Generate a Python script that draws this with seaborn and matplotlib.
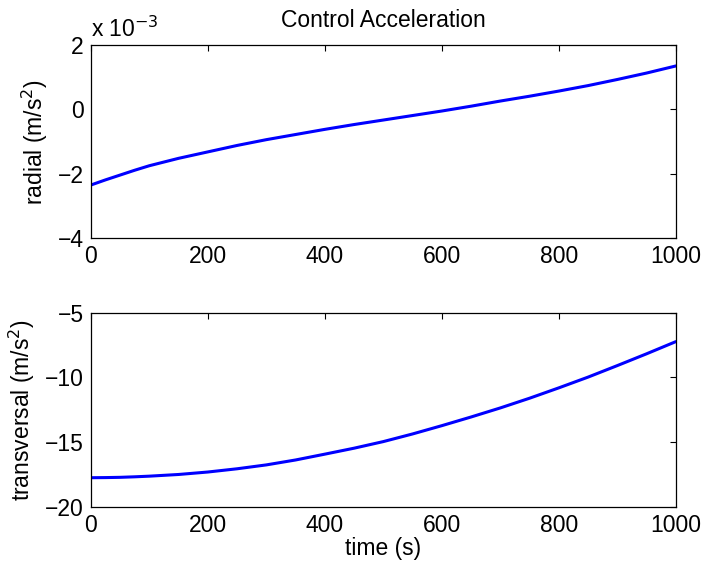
import numpy as np
import pandas as pd
import matplotlib
matplotlib.use("Agg")
import matplotlib.pyplot as plt
import matplotlib.ticker as mticker
import seaborn as sns

# values
time_s = [0, 25, 50, 75, 100, 150, 200, 250, 300, 350, 400, 450, 500,
          550, 600, 650, 700, 750, 800, 850, 900, 950, 1000]
radial = [-2.35e-3, -2.19e-3, -2.04e-3, -1.89e-3, -1.75e-3, -1.52e-3,
          -1.32e-3, -1.12e-3, -0.94e-3, -0.78e-3, -0.62e-3, -0.47e-3,
          -0.33e-3, -0.19e-3, -0.05e-3, 0.10e-3, 0.26e-3, 0.41e-3,
          0.57e-3, 0.74e-3, 0.93e-3, 1.13e-3, 1.35e-3]
transversal = [-17.74, -17.73, -17.71, -17.67, -17.62, -17.49, -17.30,
               -17.05, -16.75, -16.37, -15.92, -15.46, -14.95, -14.36,
               -13.72, -13.05, -12.35, -11.60, -10.80, -9.97, -9.08,
               -8.17, -7.23]

df = pd.DataFrame({"time": time_s, "radial": radial, "transversal": transversal})

sns.set_style("white")
plt.rcParams["font.family"] = ["Liberation Sans", "DejaVu Sans"]
plt.rcParams["xtick.direction"] = "in"
plt.rcParams["ytick.direction"] = "in"
plt.rcParams["text.color"] = "black"
plt.rcParams["axes.labelcolor"] = "black"
plt.rcParams["xtick.color"] = "black"
plt.rcParams["ytick.color"] = "black"
fs = 16.5

fig = plt.figure(figsize=(7.04, 5.63), dpi=100)
ax1 = fig.add_axes([0.129, 0.577, 0.831, 0.343])
ax2 = fig.add_axes([0.129, 0.0995, 0.831, 0.345])

line_kw = dict(color=(0, 0, 1), linewidth=2.2)
sns.lineplot(data=df, x="time", y="radial", ax=ax1, **line_kw)
sns.lineplot(data=df, x="time", y="transversal", ax=ax2, **line_kw)

ax1.set_xlim(0, 1000)
ax1.set_ylim(-4e-3, 2e-3)
ax1.set_yticks([-4e-3, -2e-3, 0, 2e-3])
ax1.yaxis.set_major_formatter(mticker.FuncFormatter(
    lambda v, p: f"{v * 1e3:.0f}".replace("-", "\u2212")))
ax1.set_ylabel("radial (m/s$^2$)", fontsize=fs, labelpad=6)
ax1.set_xlabel("")
ax1.set_title("Control Acceleration", fontsize=fs, pad=13, color="black")
ax1.text(0.0, 1.04, "x 10$^{-3}$", transform=ax1.transAxes,
         ha="left", va="baseline", fontsize=fs, color="black")

ax2.set_xlim(0, 1000)
ax2.set_ylim(-20, -5)
ax2.set_yticks([-20, -15, -10, -5])
ax2.set_ylabel("transversal (m/s$^2$)", fontsize=fs, labelpad=6)
ax2.set_xlabel("time (s)", fontsize=fs, labelpad=0)

for ax in (ax1, ax2):
    ax.set_xticks([0, 200, 400, 600, 800, 1000])
    ax.tick_params(axis="both", which="both", top=True, right=True,
                   length=4, width=0.8, labelsize=fs, color="black",
                   labelcolor="black")
    ax.tick_params(axis="x", pad=5)
    ax.tick_params(axis="y", pad=5)
    for s in ax.spines.values():
        s.set_color("black")
        s.set_linewidth(0.9)

fig.savefig("out.png", dpi=100)
